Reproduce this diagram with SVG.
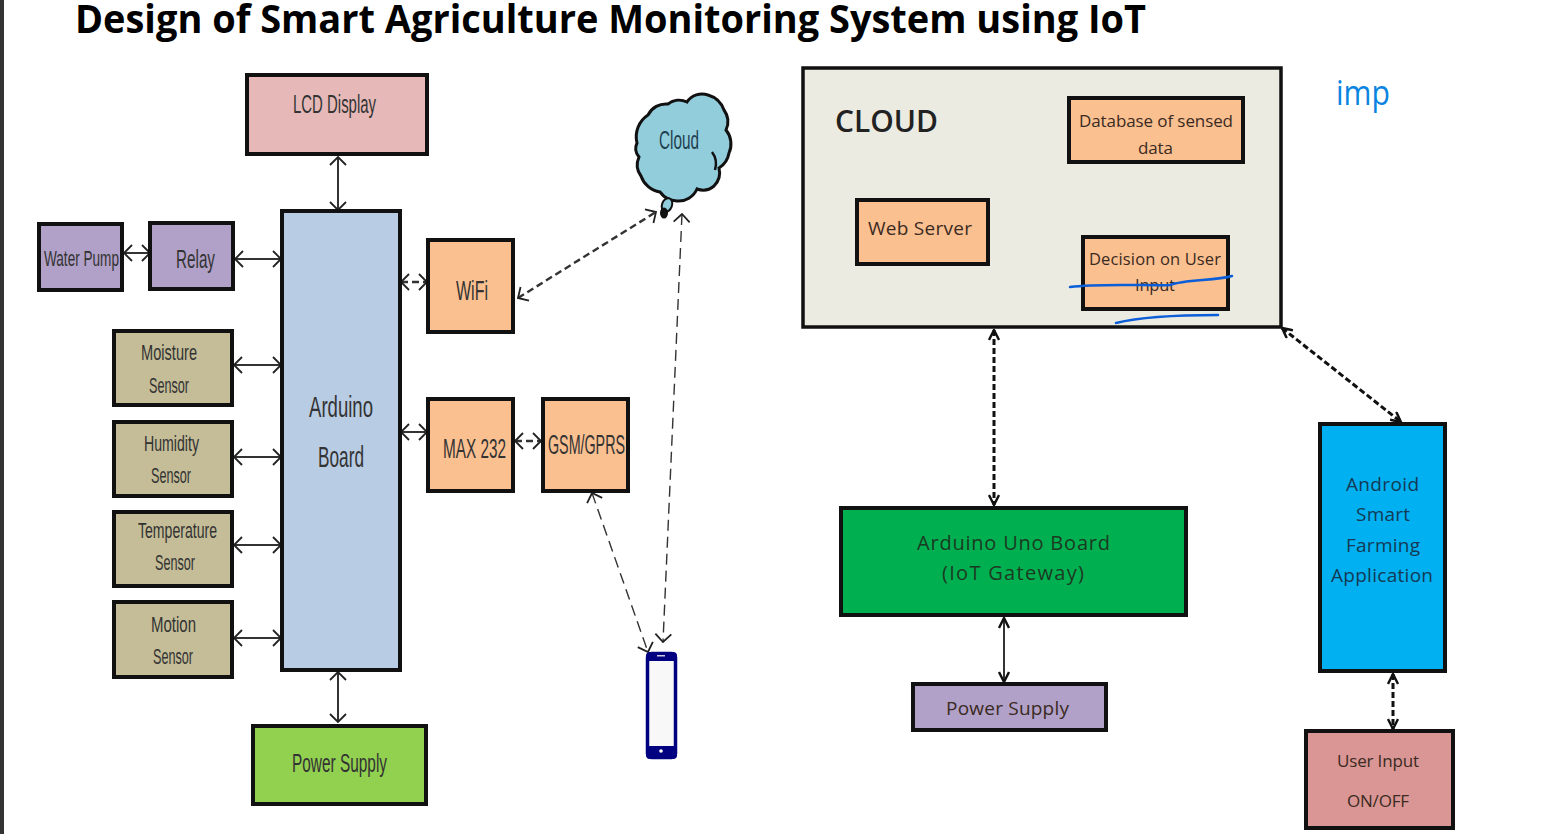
<svg xmlns="http://www.w3.org/2000/svg" width="1556" height="834" viewBox="0 0 1556 834">
<style>
.b{stroke:#111;stroke-width:4}
.n{font-family:"Liberation Sans",Arial,sans-serif;fill:#333;text-anchor:start}
.w{font-family:"Open Sans","Liberation Sans",sans-serif;font-weight:500;fill:#3a2a22;text-anchor:start}
.c{fill:none;stroke:#333;stroke-width:2}
.d{stroke-width:2.4;stroke-dasharray:7 4}
.t{stroke:#111;stroke-width:3;stroke-dasharray:6 3}
.thin{stroke-width:1.4;stroke-dasharray:11 6}
.s{fill:none;stroke:#0b5ed7;stroke-width:2.5;stroke-linecap:round}
</style>
<defs>
<marker id="a" viewBox="0 0 10 18" refX="9" refY="9" markerWidth="10" markerHeight="18" markerUnits="userSpaceOnUse" orient="auto-start-reverse"><path d="M1 1L9 9L1 17" fill="none" stroke="#222" stroke-width="1.8"/></marker>
<marker id="k" viewBox="0 0 12 12" refX="11" refY="6" markerWidth="12" markerHeight="12" markerUnits="userSpaceOnUse" orient="auto-start-reverse"><path d="M1 1L11 6L1 11" fill="none" stroke="#111" stroke-width="2.4"/></marker>
</defs>
<rect width="1556" height="834" fill="#fff"/>
<rect width="4" height="834" fill="#333"/>
<text x="75" y="33" font-family="'Open Sans','Liberation Sans',sans-serif" font-weight="700" font-size="39.500" fill="#000" textLength="1071" lengthAdjust="spacingAndGlyphs">Design of Smart Agriculture Monitoring System using IoT</text>
<text x="1336" y="105" font-family="'Open Sans','Liberation Sans',sans-serif" font-size="34" fill="#0a84e0" textLength="54" lengthAdjust="spacingAndGlyphs">imp</text>

<g id="connectors">
<path class="c" d="M338 157V210" marker-start="url(#a)" marker-end="url(#a)"/>
<path class="c" d="M124 253H150" marker-start="url(#a)" marker-end="url(#a)"/>
<path class="c" d="M235 259H281" marker-start="url(#a)" marker-end="url(#a)"/>
<path class="c" d="M234 365H281" marker-start="url(#a)" marker-end="url(#a)"/>
<path class="c" d="M234 457H281" marker-start="url(#a)" marker-end="url(#a)"/>
<path class="c" d="M234 545H281" marker-start="url(#a)" marker-end="url(#a)"/>
<path class="c" d="M234 638H281" marker-start="url(#a)" marker-end="url(#a)"/>
<path class="c" d="M338 672V722" marker-start="url(#a)" marker-end="url(#a)"/>
<path class="c d" d="M401 282H427" marker-start="url(#a)" marker-end="url(#a)"/>
<path class="c" d="M401 432H427" marker-start="url(#a)" marker-end="url(#a)"/>
<path class="c d" d="M515 441H541" marker-start="url(#a)" marker-end="url(#a)"/>
<path class="c d" d="M518 298L656 212" marker-start="url(#a)" marker-end="url(#a)"/>
<path class="c thin" d="M682 214L663 642" marker-start="url(#a)" marker-end="url(#a)"/>
<path class="c thin" d="M592 493L648 652" marker-start="url(#a)" marker-end="url(#a)"/>
<path class="c t" d="M994 330V505" marker-start="url(#k)" marker-end="url(#k)"/>
<path class="c t" d="M1282 328L1401 422" marker-start="url(#k)" marker-end="url(#k)"/>
<path class="c" stroke-width="2.500" d="M1004 618V682" marker-start="url(#k)" marker-end="url(#k)"/>
<path class="c t" d="M1393 674V729" marker-start="url(#k)" marker-end="url(#k)"/>
</g>

<g id="lcd"><rect class="b" x="247" y="75" width="180" height="79" fill="#e6b9b8"/><text class="n" x="293" y="113" font-size="26" textLength="83" lengthAdjust="spacingAndGlyphs">LCD Display</text></g>
<g id="water-pump"><rect class="b" x="39" y="224" width="83" height="66" fill="#b1a0c7"/><text class="n" x="44" y="266" font-size="22" textLength="75" lengthAdjust="spacingAndGlyphs">Water Pump</text></g>
<g id="relay"><rect class="b" x="150" y="223" width="83" height="66" fill="#b1a0c7"/><text class="n" x="176" y="268" font-size="25" textLength="39" lengthAdjust="spacingAndGlyphs">Relay</text></g>
<g id="arduino"><rect class="b" x="282" y="211" width="118" height="459" fill="#b8cce4"/><text class="n" x="309" y="417" font-size="30" textLength="64" lengthAdjust="spacingAndGlyphs">Arduino</text><text class="n" x="318" y="467" font-size="30" textLength="46" lengthAdjust="spacingAndGlyphs">Board</text></g>
<g id="moisture"><rect class="b" x="114" y="331" width="118" height="74" fill="#c4bd97"/><text class="n" x="141" y="360" font-size="22" textLength="56" lengthAdjust="spacingAndGlyphs">Moisture</text><text class="n" x="149" y="393" font-size="22" textLength="40" lengthAdjust="spacingAndGlyphs">Sensor</text></g>
<g id="humidity"><rect class="b" x="114" y="422" width="118" height="74" fill="#c4bd97"/><text class="n" x="144" y="451" font-size="22" textLength="55" lengthAdjust="spacingAndGlyphs">Humidity</text><text class="n" x="151" y="483" font-size="22" textLength="40" lengthAdjust="spacingAndGlyphs">Sensor</text></g>
<g id="temperature"><rect class="b" x="114" y="512" width="118" height="74" fill="#c4bd97"/><text class="n" x="138" y="538" font-size="22" textLength="79" lengthAdjust="spacingAndGlyphs">Temperature</text><text class="n" x="155" y="570" font-size="22" textLength="40" lengthAdjust="spacingAndGlyphs">Sensor</text></g>
<g id="motion"><rect class="b" x="114" y="602" width="118" height="75" fill="#c4bd97"/><text class="n" x="151" y="632" font-size="22" textLength="45" lengthAdjust="spacingAndGlyphs">Motion</text><text class="n" x="153" y="664" font-size="22" textLength="40" lengthAdjust="spacingAndGlyphs">Sensor</text></g>
<g id="power-left"><rect class="b" x="253" y="726" width="173" height="78" fill="#92d050"/><text class="n" x="292" y="772" font-size="26" textLength="95" lengthAdjust="spacingAndGlyphs">Power Supply</text></g>
<g id="wifi"><rect class="b" x="428" y="240" width="85" height="92" fill="#fac090"/><text class="n" x="456" y="300" font-size="27" textLength="32" lengthAdjust="spacingAndGlyphs">WiFi</text></g>
<g id="max232"><rect class="b" x="428" y="399" width="85" height="92" fill="#fac090"/><text class="n" x="443" y="458" font-size="27" textLength="63" lengthAdjust="spacingAndGlyphs">MAX 232</text></g>
<g id="gsm"><rect class="b" x="543" y="399" width="85" height="92" fill="#fac090"/><text class="n" x="548" y="454" font-size="27" textLength="77" lengthAdjust="spacingAndGlyphs">GSM/GPRS</text></g>
<g id="cloud-left">
<path d="M637 143A26 26 0 0 1 648 115A20 20 0 0 1 668 104A18 18 0 0 1 687 102A18 18 0 0 1 708 95A24 24 0 0 1 724 110A20 20 0 0 1 726 130A22 22 0 0 1 729 153A22 22 0 0 1 719 168A19 19 0 0 1 714 186A17 17 0 0 1 697 189A20 20 0 0 1 677 201A22 22 0 0 1 660 192A24 24 0 0 1 641 176A19 19 0 0 1 639 157A13 13 0 0 1 637 143Z" fill="#92cddc" stroke="#111" stroke-width="3"/>
<path d="M712 152Q718 160 715 170" fill="none" stroke="#111" stroke-width="2.500"/>
<ellipse cx="667" cy="205" rx="5" ry="7" transform="rotate(20 667 205)" fill="#92cddc" stroke="#111" stroke-width="2"/>
<ellipse cx="664" cy="213" rx="4" ry="5.500" fill="#111"/>
<text class="n" x="659" y="149" font-size="26" style="fill:#1f3f50" textLength="40" lengthAdjust="spacingAndGlyphs">Cloud</text>
</g>
<g id="phone">
<rect x="647.500" y="653.500" width="28" height="104" rx="4" fill="#f8f8f8" stroke="#000080" stroke-width="3.500"/>
<path d="M646 661V656Q646 652 650 652H673Q677 652 677 656V661Z" fill="#000080"/>
<path d="M646 746V755Q646 759 650 759H673Q677 759 677 755V746Z" fill="#000080"/>
<circle cx="661" cy="751" r="1.800" fill="#fff"/>
<rect x="657" y="655" width="8" height="1.500" fill="#ccd"/>
</g>

<g id="cloud-panel"><rect x="803" y="68" width="478" height="259" fill="#ecebe1" stroke="#111" stroke-width="3.500"/><text x="835" y="132" font-family="'Open Sans','Liberation Sans',sans-serif" font-weight="600" font-size="31" fill="#222" textLength="103" lengthAdjust="spacingAndGlyphs">CLOUD</text></g>
<g id="database"><rect class="b" x="1069" y="98" width="174" height="64" fill="#fac090"/><text class="w" x="1079" y="127" font-size="17" textLength="154" lengthAdjust="spacing">Database of sensed</text><text class="w" x="1138" y="154" font-size="17" textLength="35" lengthAdjust="spacing">data</text></g>
<g id="web-server"><rect class="b" x="857" y="200" width="131" height="64" fill="#fac090"/><text class="w" x="868" y="235" font-size="19" textLength="104" lengthAdjust="spacing">Web Server</text></g>
<g id="decision"><rect class="b" x="1083" y="237" width="145" height="72" fill="#fac090"/><text class="w" x="1089" y="265" font-size="16.500" textLength="132" lengthAdjust="spacing">Decision on User</text><text class="w" x="1135" y="291" font-size="16.500" textLength="40" lengthAdjust="spacing">Input</text></g>
<g id="uno"><rect class="b" x="841" y="508" width="345" height="107" fill="#00b050"/><text class="w" x="917" y="550" font-size="20" style="fill:#1c3a22" textLength="193" lengthAdjust="spacing">Arduino Uno Board</text><text class="w" x="942" y="580" font-size="20" style="fill:#1c3a22" textLength="142" lengthAdjust="spacing">(IoT Gateway)</text></g>
<g id="power-right"><rect class="b" x="913" y="684" width="193" height="46" fill="#b1a0c7"/><text class="w" x="946" y="715" font-size="19" textLength="123" lengthAdjust="spacing">Power Supply</text></g>
<g id="android"><rect class="b" x="1320" y="424" width="125" height="247" fill="#00b0f0"/><text class="w" x="1346" y="491" font-size="19" style="fill:#143a55" textLength="73" lengthAdjust="spacing">Android</text><text class="w" x="1356" y="521" font-size="19" style="fill:#143a55" textLength="54" lengthAdjust="spacing">Smart</text><text class="w" x="1346" y="552" font-size="19" style="fill:#143a55" textLength="74" lengthAdjust="spacing">Farming</text><text class="w" x="1331" y="582" font-size="19" style="fill:#143a55" textLength="102" lengthAdjust="spacing">Application</text></g>
<g id="user-input"><rect class="b" x="1306" y="731" width="147" height="97" fill="#d99694"/><text class="w" x="1337" y="767" font-size="17" textLength="82" lengthAdjust="spacing">User Input</text><text class="w" x="1347" y="807" font-size="17" textLength="62" lengthAdjust="spacing">ON/OFF</text></g>

<path class="s" d="M1070 287C1100 283 1150 286 1170 285C1185 279 1215 281 1232 276"/>
<path class="s" d="M1116 323C1140 317 1170 315 1218 315"/>
</svg>
